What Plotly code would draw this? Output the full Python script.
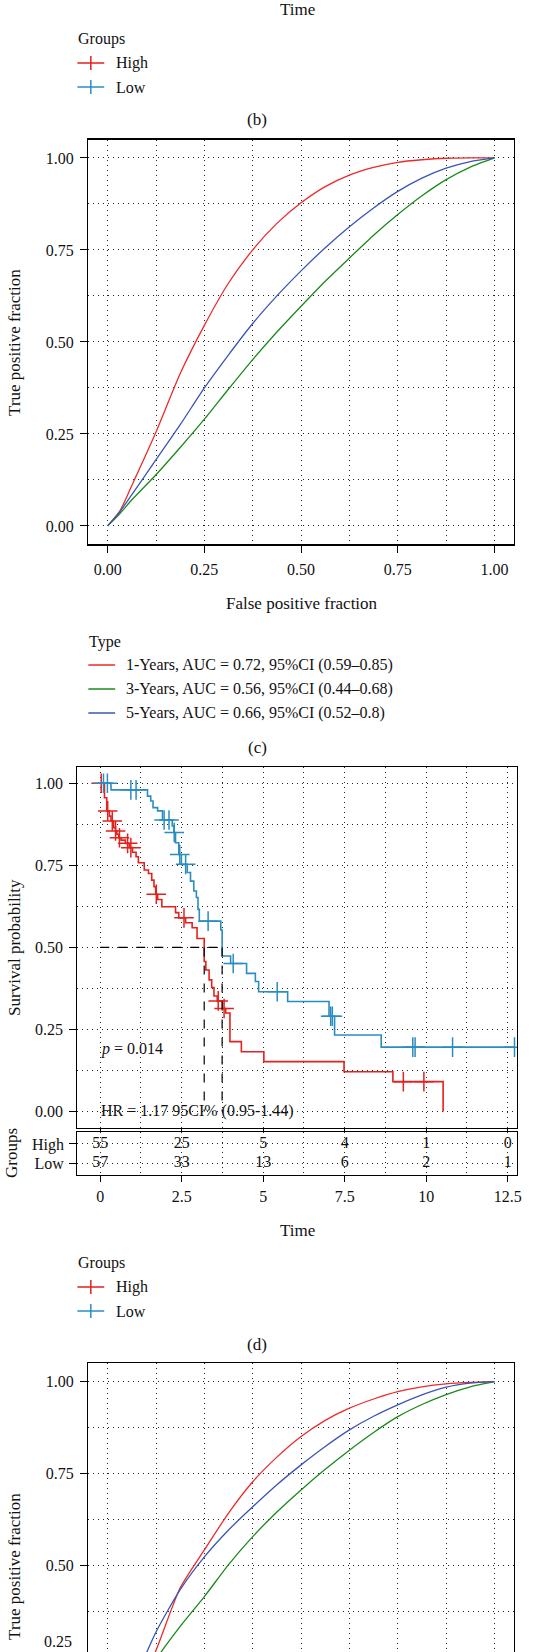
import plotly.graph_objects as go

W, H = 534, 1652
FONT = "Liberation Serif"
TXT = "#111111"
GRIDC = "#222222"
GDASH = "1px,4px"
TICK_SIZE = 16
TITLE_SIZE = 17
LEG_SIZE = 16

def fx(px):
    return px / W

def fy(py):
    return 1 - py / H

# ---------------- Panel (c): time-dependent ROC ----------------
roc_labels = ["1-Years, AUC = 0.72, 95%CI (0.59\u20130.85)",
              "3-Years, AUC = 0.56, 95%CI (0.44\u20130.68)",
              "5-Years, AUC = 0.66, 95%CI (0.52\u20130.8)"]
roc_colors = ["#EE2A2A", "#1C891C", "#3A56B5"]

fpr_grid = [0, 0.03125, 0.0625, 0.125, 0.1875, 0.25, 0.3125, 0.375, 0.4375, 0.5,
            0.5625, 0.625, 0.6875, 0.75, 0.8125, 0.875, 0.9375, 1.0]
c_tpr_1y = [0, 0.04, 0.11, 0.255, 0.414, 0.545, 0.66, 0.75, 0.822, 0.878,
            0.922, 0.953, 0.974, 0.988, 0.995, 0.999, 1.0, 1.0]
c_tpr_3y = [0, 0.033, 0.071, 0.139, 0.213, 0.29, 0.372, 0.452, 0.527, 0.597,
            0.665, 0.728, 0.79, 0.846, 0.897, 0.941, 0.975, 1.0]
c_tpr_5y = [0, 0.038, 0.085, 0.18, 0.275, 0.375, 0.465, 0.55, 0.625, 0.693,
            0.756, 0.813, 0.864, 0.909, 0.945, 0.972, 0.99, 1.0]

# ---------------- Panel (e) (partially visible) ROC ----------------
e_tpr_1y = [0, 0.05, 0.12, 0.27, 0.44, 0.543, 0.643, 0.728, 0.795, 0.851,
            0.895, 0.928, 0.953, 0.973, 0.986, 0.994, 0.998, 1.0]
e_tpr_3y = [0, 0.06, 0.12, 0.245, 0.335, 0.416, 0.503, 0.579, 0.646, 0.706,
            0.762, 0.814, 0.862, 0.905, 0.938, 0.965, 0.986, 1.0]
e_tpr_5y = [0, 0.08, 0.17, 0.32, 0.435, 0.524, 0.597, 0.66, 0.72, 0.774,
            0.824, 0.869, 0.906, 0.937, 0.964, 0.985, 0.996, 1.0]

# ---------------- Panel (d): Kaplan-Meier ----------------
group_names = ["High", "Low"]
group_colors = ["#E3211E", "#2A8DC0"]
high_times = [0.13, 0.20, 0.28, 0.33, 0.41, 0.47, 0.51, 0.57, 0.64, 0.77, 0.89, 0.99, 1.10, 1.17, 1.35,
              1.48, 1.58, 1.65, 1.70, 1.76, 1.89, 2.31, 2.41, 2.62, 2.82, 2.97, 3.19, 3.24, 3.34, 3.42,
              3.49, 3.59, 3.75, 3.85, 3.98, 4.33, 5.02, 7.48, 8.98, 10.52]
high_surv = [0.956, 0.916, 0.900, 0.885, 0.865, 0.855, 0.845, 0.834, 0.827, 0.817, 0.804, 0.790, 0.776, 0.758, 0.736,
             0.725, 0.705, 0.685, 0.662, 0.646, 0.624, 0.606, 0.590, 0.575, 0.560, 0.527, 0.457, 0.431, 0.401, 0.378,
             0.352, 0.337, 0.314, 0.300, 0.213, 0.182, 0.152, 0.121, 0.091, 0.0]
high_censor = [0.03, 0.23, 0.37, 0.47, 0.59, 0.84, 0.94, 1.72, 2.57, 3.62, 3.80, 9.30, 9.93]
low_times = [0.33, 1.45, 1.55, 1.62, 1.76, 1.91, 2.21, 2.26, 2.31, 2.41, 2.49, 2.67, 2.77, 2.87, 2.95,
             3.00, 3.04, 3.70, 3.74, 4.00, 4.49, 4.76, 4.86, 5.75, 7.02, 7.19, 8.62]
low_surv = [0.98, 0.961, 0.946, 0.926, 0.916, 0.888, 0.87, 0.85, 0.819, 0.783, 0.753, 0.728, 0.702, 0.672, 0.652,
            0.616, 0.58, 0.553, 0.474, 0.451, 0.421, 0.396, 0.365, 0.335, 0.29, 0.233, 0.196]
low_censor = [0.10, 0.22, 0.94, 1.10, 1.96, 2.11, 2.27, 2.44, 2.62, 3.31, 4.08, 5.43, 7.07, 7.12, 9.59, 9.66, 10.81, 12.71]

risk_times = [0, 2.5, 5, 7.5, 10, 12.5]
risk_high = [55, 25, 5, 4, 1, 0]
risk_low = [57, 33, 13, 6, 2, 1]

p_text = "<i>p</i> = 0.014"
hr_text = "HR = 1.17 95CI% (0.95-1.44)"


def surv_at(t, times, surv):
    s = 1.0
    for ti, si in zip(times, surv):
        if ti <= t:
            s = si
    return s


def step_xy(times, surv, end):
    xs, ys = [0.0], [1.0]
    for t, s in zip(times, surv):
        xs.append(t)
        ys.append(s)
    if end > xs[-1]:
        xs.append(end)
        ys.append(ys[-1])
    return xs, ys


def median(times, surv):
    for t, s in zip(times, surv):
        if s <= 0.5:
            return t
    return None


fig = go.Figure()

# ROC (c)
for tpr, col in [(c_tpr_1y, roc_colors[0]), (c_tpr_3y, roc_colors[1]), (c_tpr_5y, roc_colors[2])]:
    fig.add_trace(go.Scatter(x=fpr_grid, y=tpr, mode="lines", xaxis="x", yaxis="y", showlegend=False,
                             line=dict(color=col, width=1.3, shape="spline", smoothing=0.6)))

# KM (d)
groups = [(high_times, high_surv, high_censor, group_colors[0]),
          (low_times, low_surv, low_censor, group_colors[1])]
for times, surv, cens, col in groups:
    end = max(times[-1], max(cens))
    if surv[-1] == 0:
        end = times[-1]
    xs, ys = step_xy(times, surv, end)
    fig.add_trace(go.Scatter(x=xs, y=ys, mode="lines", xaxis="x2", yaxis="y2", showlegend=False,
                             line=dict(color=col, width=1.6, shape="hv")))
    fig.add_trace(go.Scatter(x=cens, y=[surv_at(c, times, surv) for c in cens], mode="markers",
                             xaxis="x2", yaxis="y2", showlegend=False,
                             marker=dict(symbol="cross-thin", size=14, line=dict(color=col, width=1.5))))

m_high = median(high_times, high_surv)
m_low = median(low_times, low_surv)
fig.add_trace(go.Scatter(x=[0, max(m_high, m_low)], y=[0.5, 0.5], mode="lines", xaxis="x2", yaxis="y2",
                         showlegend=False, line=dict(color="black", width=1.2, dash="dash")))
for m in (m_high, m_low):
    fig.add_trace(go.Scatter(x=[m, m], y=[0.5, 0], mode="lines", xaxis="x2", yaxis="y2",
                             showlegend=False, line=dict(color="black", width=1.2, dash="dash")))

# risk table
fig.add_trace(go.Scatter(x=risk_times, y=[1] * len(risk_times), mode="text", text=[str(v) for v in risk_high],
                         textfont=dict(family=FONT, size=TICK_SIZE, color=TXT), xaxis="x3", yaxis="y3",
                         showlegend=False))
fig.add_trace(go.Scatter(x=risk_times, y=[0] * len(risk_times), mode="text", text=[str(v) for v in risk_low],
                         textfont=dict(family=FONT, size=TICK_SIZE, color=TXT), xaxis="x3", yaxis="y3",
                         showlegend=False))

# ROC (e)
for tpr, col in [(e_tpr_1y, roc_colors[0]), (e_tpr_3y, roc_colors[1]), (e_tpr_5y, roc_colors[2])]:
    fig.add_trace(go.Scatter(x=fpr_grid, y=tpr, mode="lines", xaxis="x4", yaxis="y4", showlegend=False,
                             line=dict(color=col, width=1.3, shape="spline", smoothing=0.6)))


def axis(**kw):
    base = dict(showline=True, linecolor="black", linewidth=1.3, mirror=True, ticks="outside", ticklen=7,
                tickwidth=1, tickcolor="black", tickfont=dict(family=FONT, size=TICK_SIZE, color=TXT),
                showgrid=True, gridcolor=GRIDC, gridwidth=1, griddash=GDASH, zeroline=False, fixedrange=True)
    base.update(kw)
    return base


def minor(dt, t0=0):
    return dict(dtick=dt, tick0=t0, showgrid=True, gridcolor=GRIDC, gridwidth=1, griddash=GDASH, ticklen=0)


roc_ticks = [0, 0.25, 0.5, 0.75, 1.0]
roc_ticktext = ["0.00", "0.25", "0.50", "0.75", "1.00"]
km_xt = [0, 2.5, 5, 7.5, 10, 12.5]

# pixel geometry
ROC_L, ROC_R = 89, 517.7
ROC1_T, ROC1_B = 139.5, 544.3
KM_L, KM_R = 78, 521
KM_T, KM_B = 766.9, 1127.9
TB_T, TB_B = 1132.3, 1175
ROC2_T = 1363.3
roc2_ymin = 1 - (H - 1381.7) / 368.0

fig.update_layout(
    width=W, height=H, autosize=False, margin=dict(l=0, r=0, t=0, b=0),
    paper_bgcolor="white", plot_bgcolor="white", showlegend=False,
    font=dict(family=FONT, size=TICK_SIZE, color=TXT),
    xaxis=axis(domain=[fx(ROC_L), fx(ROC_R)], range=[-0.05, 1.05], anchor="y", tickvals=roc_ticks,
               ticktext=roc_ticktext, ticklabelstandoff=3, minor=minor(0.125)),
    yaxis=axis(domain=[fy(ROC1_B), fy(ROC1_T)], range=[-0.05, 1.05], anchor="x", tickvals=roc_ticks,
               ticktext=roc_ticktext, ticklabelstandoff=3, minor=minor(0.125)),
    xaxis2=axis(domain=[fx(KM_L), fx(KM_R)], range=[-0.70, 12.79], anchor="y2", tickvals=km_xt,
                showticklabels=False, ticklen=4, minor=minor(1.25)),
    yaxis2=axis(domain=[fy(KM_B), fy(KM_T)], range=[-0.05, 1.05], anchor="x2", tickvals=roc_ticks,
                ticktext=roc_ticktext, ticklabelstandoff=3, minor=minor(0.125)),
    xaxis3=axis(domain=[fx(KM_L), fx(KM_R)], range=[-0.70, 12.79], anchor="y3", tickvals=km_xt,
                ticktext=["0", "2.5", "5", "7.5", "10", "12.5"], ticklen=6, minor=minor(1.25)),
    yaxis3=axis(domain=[fy(TB_B), fy(TB_T)], range=[-0.6, 1.6], anchor="x3", tickvals=[0, 1],
                ticktext=["Low", "High"], ticklabelstandoff=2),
    xaxis4=axis(domain=[fx(ROC_L), fx(ROC_R)], range=[-0.05, 1.05], anchor="y4", side="top", mirror=False,
                ticks="", showticklabels=False, tickvals=roc_ticks, minor=minor(0.125)),
    yaxis4=axis(domain=[0, fy(ROC2_T)], range=[roc2_ymin, 1.05], anchor="x4", tickvals=roc_ticks,
                ticktext=roc_ticktext, ticklabelstandoff=3, minor=minor(0.125)),
)

ann = []


def A(text, px, py, size=TITLE_SIZE, xanchor="center", yanchor="middle", angle=0, xref="paper", yref="paper",
      x=None, y=None):
    ann.append(dict(text=text, x=fx(px) if x is None else x, y=fy(py) if y is None else y, xref=xref, yref=yref,
                    showarrow=False, xanchor=xanchor, yanchor=yanchor, textangle=angle,
                    font=dict(family=FONT, size=size, color=TXT)))


# top remnants of panel (a)/(b)
A("Time", (KM_L + KM_R) / 2, 9)
A("Groups", 77, 39, size=LEG_SIZE, xanchor="left")
A("High", 115, 63, size=LEG_SIZE, xanchor="left")
A("Low", 115, 87, size=LEG_SIZE, xanchor="left")
A("(b)", 259, 119)

# panel (c) texts
A("False positive fraction", 304, 603)
A("True positive fraction", 14, 342, angle=-90)
A("Type", 88, 642, size=LEG_SIZE, xanchor="left")
for i, lab in enumerate(roc_labels):
    A(lab, 125, 665 + 24 * i, size=LEG_SIZE, xanchor="left")
A("(c)", 259, 747)

# panel (d) texts
A("Survival probability", 14, 947, angle=-90)
A("Groups", 11, 1153, angle=-90)
A(p_text, 0, 0, size=LEG_SIZE, xanchor="left", xref="x2", yref="y2", x=-0.05, y=0.19)
A(hr_text, 0, 0, size=LEG_SIZE, xanchor="left", xref="x2", yref="y2", x=-0.05, y=0.0)
A("Time", (KM_L + KM_R) / 2, 1230)
A("Groups", 77, 1263, size=LEG_SIZE, xanchor="left")
A("High", 115, 1287, size=LEG_SIZE, xanchor="left")
A("Low", 115, 1311, size=LEG_SIZE, xanchor="left")
A("(d)", 259, 1344)

# panel (e) texts
A("True positive fraction", 14, 1566, angle=-90)
A("0.25", 75, 1641, size=TICK_SIZE, xanchor="right")

fig.update_layout(annotations=ann)

shapes = []
# group legend glyphs (top & panel d)
for ys in ([63, 87], [1287, 1311]):
    for yy, col in zip(ys, group_colors):
        shapes.append(dict(type="line", xref="paper", yref="paper", x0=fx(78), x1=fx(105), y0=fy(yy), y1=fy(yy),
                           line=dict(color=col, width=1.5)))
        shapes.append(dict(type="line", xref="paper", yref="paper", x0=fx(91.5), x1=fx(91.5), y0=fy(yy - 7),
                           y1=fy(yy + 7), line=dict(color=col, width=1.5)))
# type legend glyphs
for i, col in enumerate(roc_colors):
    yy = 665 + 24 * i
    shapes.append(dict(type="line", xref="paper", yref="paper", x0=fx(89), x1=fx(116), y0=fy(yy), y1=fy(yy),
                       line=dict(color=col, width=1.5)))
fig.update_layout(shapes=shapes)

fig.write_html("out.html", config={"displayModeBar": False, "staticPlot": True},
               post_script="document.body.style.margin='0';document.body.style.padding='0';")
